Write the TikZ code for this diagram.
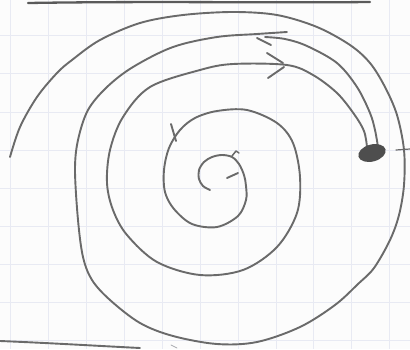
\documentclass[tikz,border=0pt]{standalone}
\definecolor{paper}{HTML}{FCFCFC}
\definecolor{gridc}{HTML}{E8EAF3}
\definecolor{pencil}{HTML}{6A6A6A}
\definecolor{blobc}{HTML}{4E4E4E}
\tikzset{
  pen/.style={draw=pencil, line width=1.9pt, line cap=round, line join=round},
  gridline/.style={draw=gridc, line width=0.7pt},
}
\begin{document}
\begin{tikzpicture}[x=1pt,y=-1pt]
\useasboundingbox (0,0) rectangle (410,349);
\fill[paper] (0,0) rectangle (410,349);
% grid
\foreach \gx in {10,48,86,124,162,200,238,276,313,351,389}
  \draw[gridline] (\gx,0) -- (\gx,349);
\foreach \gy in {35,73,112,150,188,226,264,302,340}
  \draw[gridline] (0,\gy) -- (410,\gy);
% page edge lines
\draw[pen, line width=2.3pt, draw=pencil!85!black] (28,3) .. controls (150,1) and (260,3) .. (370,2);
\draw[pen, line width=1.9pt] (0,341) .. controls (50,343) and (100,346) .. (140,348);
\draw[pen, line width=1.2pt] (396,150) -- (410,149);
\draw[pen, line width=0.8pt, draw=gridc!50!pencil] (171,345) -- (177,348);
% outer spiral (one turn, ending at top of second ring)
\draw[pen] plot[smooth, tension=0.55] coordinates {(10,157) (20,127) (37,97) (57,73) (72,60) (100,40) (140,23) (183,15) (233,12) (277,15) (317,27) (350,45) (370,63) (385,87) (397,115) (404,150) (404,185) (399,215) (390,240) (374,268) (358,284) (335,305) (300,327) (257,342) (217,344) (173,336) (140,323) (110,300) (92,280) (83,257) (78,220) (75,170) (78,140) (88,110) (107,87) (133,67) (173,47) (217,37) (257,34) (287,32)};
% inner spiral from blob to centre
\draw[pen] plot[smooth, tension=0.55] coordinates {(367,147) (364,131) (354,114) (337,93) (313,75) (287,65) (233,64) (200,70) (150,87) (123,117) (110,150) (107,183) (113,210) (127,235) (157,262) (200,275) (243,270) (277,247) (297,213) (300,177) (293,143) (277,123) (247,110) (217,111) (195,118) (180,130) (169,148) (164,170) (165,192) (174,209) (192,224) (217,227) (238,216) (246,200) (246,186) (244,175) (239,164) (232,157) (222,155) (212,157) (204,162) (199,170) (199,179) (203,186) (210,190)};
% outer arc from blob to second ring
\draw[pen] plot[smooth, tension=0.55] coordinates {(378,147) (375,130) (370,113) (357,87) (337,63) (307,46) (285,39) (265,37)};
% arrow barbs
\draw[pen] (257,38) -- (271,45);
\draw[pen] (267,53) -- (283,63);
\draw[pen] (268,78) -- (284,67);
\draw[pen] (171,124) -- (176,141);
\draw[pen, line width=1.5pt] (232,156) -- (236,151) -- (239,153);
\draw[pen] (227,178) -- (238,173);
% blob
\fill[blobc, rotate around={15:(372,153)}] (372,153) ellipse [x radius=14pt, y radius=8.5pt];
\end{tikzpicture}
\end{document}
